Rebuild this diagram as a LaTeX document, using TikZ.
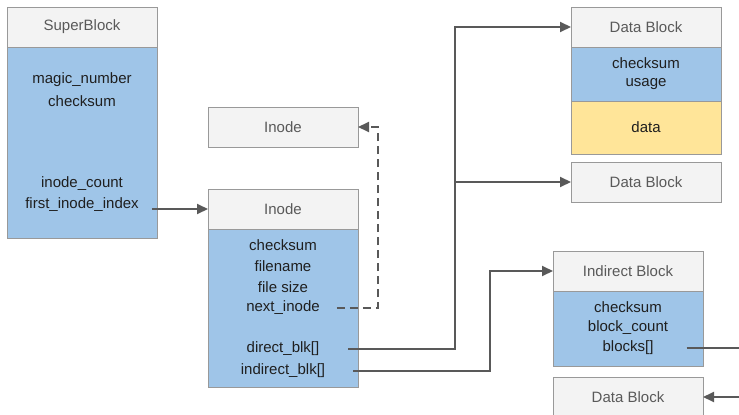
\documentclass[tikz,border=0pt]{standalone}
\usepackage{fontspec}
\setmainfont{Liberation Sans}
\usetikzlibrary{positioning,arrows.meta}

\definecolor{hdrgray}{HTML}{F3F3F3}
\definecolor{blkblue}{HTML}{9FC5E8}
\definecolor{blkyellow}{HTML}{FFE599}
\definecolor{edgegray}{HTML}{999999}
\definecolor{linkgray}{HTML}{595959}

\tikzset{
  hdr/.style={draw=edgegray, fill=hdrgray, text=linkgray, line width=0.8pt,
    minimum width=150pt, minimum height=40pt, inner sep=0pt, outer sep=0pt,
    font=\fontsize{15}{18}\selectfont},
  bodyblk/.style={draw=edgegray, fill=blkblue, line width=0.8pt,
    minimum width=150pt, inner sep=0pt, outer sep=0pt},
  datablk/.style={bodyblk, fill=blkyellow},
  fld/.style={inner sep=1pt, text=black!88, font=\fontsize{15}{18}\selectfont},
  wire/.style={draw=linkgray, line width=2pt},
  link/.style={wire, -{Triangle[length=11pt,width=10pt]}},
}

\begin{document}
\begin{tikzpicture}[x=1pt, y=-1pt]

\useasboundingbox (0,0) rectangle (739,415);

% ========== SuperBlock ==========
\node[hdr] (sbhead) at (82,27) {SuperBlock};
\node[bodyblk, minimum height=191pt, below=0pt of sbhead] (sbbody) {};
\node[fld] (magic) at (82,80) {magic\_number};
\node[fld] (sbsum) at (82,101) {checksum};
\node[fld] (icount) at (82,184) {inode\_count};
\node[fld] (fii) at (82,205) {first\_inode\_index};

% ========== Inodes ==========
\node[hdr] (inotop) at (283,127) {Inode};

\node[hdr] (inohead) at (283,209) {Inode};
\node[bodyblk, minimum height=158pt, below=0pt of inohead] (inobody) {};
\node[fld] (isum) at (283,245) {checksum};
\node[fld] (fname) at (283,266) {filename};
\node[fld] (fsize) at (283,287) {file size};
\node[fld] (nxt) at (283,308) {next\_inode};
\node[fld] (dir) at (283,349) {direct\_blk[]};
\node[fld] (ind) at (283,371) {indirect\_blk[]};

% ========== Data Blocks ==========
\node[hdr] (db1head) at (646,27) {Data Block};
\node[bodyblk, minimum height=54pt, below=0pt of db1head] (db1meta) {};
\node[datablk, minimum height=53pt, below=0pt of db1meta] (db1data) {};
\node[fld] (dsum) at (646,63) {checksum};
\node[fld] (usage) at (646,84) {usage};
\node[fld] (dat) at (646,127) {data};

\node[hdr] (db2head) at (646,182) {Data Block};

% ========== Indirect Block ==========
\node[hdr] (ihead) at (628,271) {Indirect Block};
\node[bodyblk, minimum height=75pt, below=0pt of ihead] (ibody) {};
\node[fld] (insum) at (628,307) {checksum};
\node[fld] (bcount) at (628,328) {block\_count};
\node[fld] (blks) at (628,348) {blocks[]};

\node[hdr] (db3head) at (628,397) {Data Block};

% ========== Connectors ==========
\coordinate (bus) at (455,182);
\coordinate (edgeR) at (745,0);

\draw[link] ([xshift=12pt]fii.east |- inohead.west) -- (inohead.west);
\draw[link, dash pattern=on 8pt off 5pt] ([xshift=16pt]nxt.east) -| ([xshift=20pt]inotop.east) -- (inotop.east);
\draw[wire] ([xshift=28pt]dir.east) -| (bus);
\draw[link] (bus) |- (db1head.west);
\draw[link] (bus) -- (db2head.west);
\draw[link] ([xshift=27pt]ind.east) -| ([xshift=-63pt]ihead.west) -- (ihead.west);
\draw[wire] ([xshift=32pt]blks.east) -- (edgeR |- blks.east);
\draw[link] (edgeR |- db3head.east) -- (db3head.east);

\end{tikzpicture}
\end{document}
